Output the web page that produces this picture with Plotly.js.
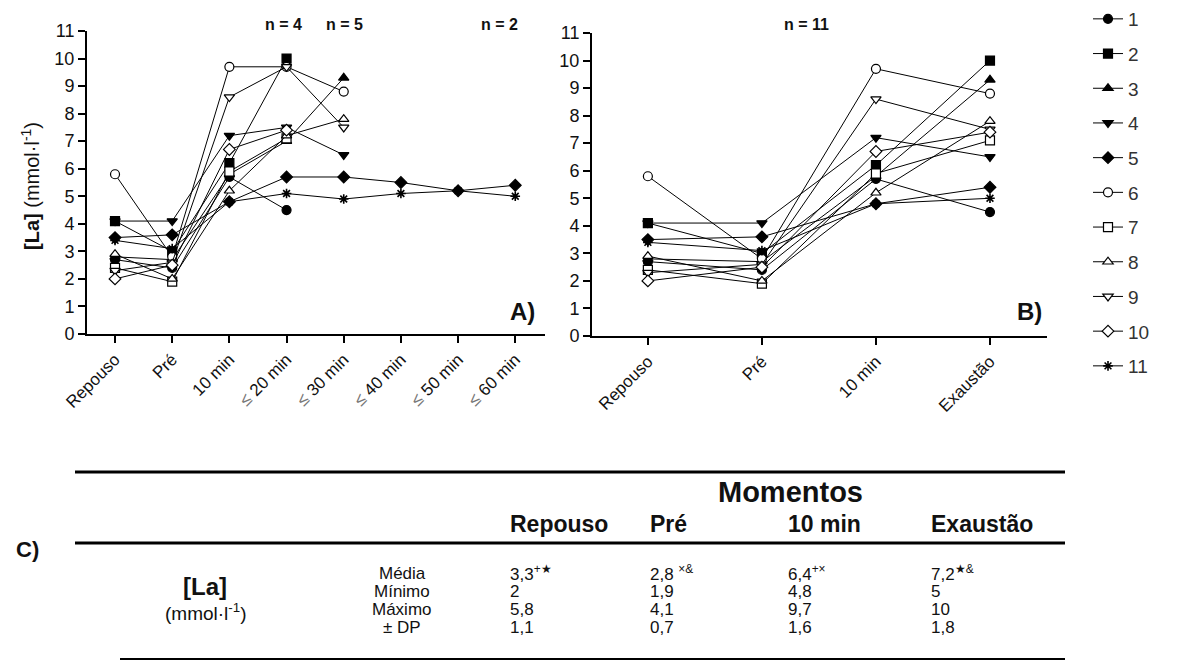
<!DOCTYPE html>
<html>
<head>
<meta charset="utf-8">
<script src="https://cdn.plot.ly/plotly-3.0.1.min.js"></script>
<style>
html,body{margin:0;padding:0;background:#fff;}
#chart{width:1178px;height:662px;}
</style>
</head>
<body>
<div id="chart"></div>
<script>
// ---- data ----
const subjects = ['1','2','3','4','5','6','7','8','9','10','11'];
const catsA = ['Repouso','Pré','10 min','20','30','40','50','60'];
const labelsA = ['Repouso','Pré','10 min',
  '<span style="color:#777">≤</span> 20 min','<span style="color:#777">≤</span> 30 min',
  '<span style="color:#777">≤</span> 40 min','<span style="color:#777">≤</span> 50 min',
  '<span style="color:#777">≤</span> 60 min'];
const catsB = ['Repouso','Pré','10 min','Exaustão'];

const repouso  = [2.7, 4.1, 2.8, 4.1, 3.5, 5.8, 2.4, 2.9, 2.3, 2.0, 3.4];
const pre      = [2.4, 3.0, 2.7, 4.1, 3.6, 2.8, 1.9, 2.0, 2.6, 2.5, 3.1];
const min10    = [5.7, 6.2, 5.8, 7.2, 4.8, 9.7, 5.9, 5.2, 8.6, 6.7, 4.8];
const min20    = [4.5, 10.0, 7.0, 7.5, 5.7, 9.7, 7.1, 7.2, 9.7, 7.4, 5.1];
const min30    = [null, null, 9.3, 6.5, 5.7, 8.8, null, 7.8, 7.5, null, 4.9];
const min40    = [null, null, null, null, 5.5, null, null, null, null, null, 5.1];
const min50    = [null, null, null, null, 5.2, null, null, null, null, null, 5.2];
const min60    = [null, null, null, null, 5.4, null, null, null, null, null, 5.0];
const exaustao = [4.5, 10.0, 9.3, 6.5, 5.4, 8.8, 7.1, 7.8, 7.5, 7.4, 5.0];

const nLabels = ['n = 4', 'n = 5', 'n = 2', 'n = 11'];

const tableCols = ['Repouso', 'Pré', '10 min', 'Exaustão'];
const tableRows = ['Média', 'Mínimo', 'Máximo', '± DP'];
const mediaVals = ['3,3<sup>+★</sup>', '2,8 <sup>×&</sup>', '6,4<sup>+×</sup>', '7,2<sup>★&</sup>'];
const minVals   = ['2', '1,9', '4,8', '5'];
const maxVals   = ['5,8', '4,1', '9,7', '10'];
const dpVals    = ['1,1', '0,7', '1,6', '1,8'];

// ---- styles ----
const symbols = ['circle','square','triangle-up','triangle-down','diamond',
                 'circle','square','triangle-up','triangle-down','diamond','asterisk-open'];
const filled  = [true,true,true,true,true,false,false,false,false,false,true];

const W = 1178, H = 662;
const px = x => x / W;
const py = y => 1 - y / H;
const SANS = 'Liberation Sans, Arial, sans-serif';

function marker(i){
  const m = {symbol: symbols[i], size: 9, color: filled[i] ? '#000' : '#fff',
             line: {color: '#000', width: 1.2}};
  if (symbols[i] === 'asterisk-open') { m.size = 8; m.line.width = 1.6; }
  return m;
}

const traces = [];
subjects.forEach((s, i) => {
  const yA = [repouso[i], pre[i], min10[i], min20[i], min30[i], min40[i], min50[i], min60[i]];
  traces.push({x: catsA, y: yA, xaxis: 'x', yaxis: 'y', type: 'scatter', mode: 'lines+markers',
    line: {color: '#000', width: 1}, marker: marker(i), showlegend: false, name: s,
    connectgaps: false, cliponaxis: false});
});
subjects.forEach((s, i) => {
  const yB = [repouso[i], pre[i], min10[i], exaustao[i]];
  traces.push({x: catsB, y: yB, xaxis: 'x2', yaxis: 'y2', type: 'scatter', mode: 'lines+markers',
    line: {color: '#000', width: 1}, marker: marker(i), showlegend: true, name: s,
    legendgroup: 'g' + s, cliponaxis: false});
});

const axY = {range: [0, 11], dtick: 1, tick0: 0, showgrid: false, zeroline: false,
  showline: true, linewidth: 2, linecolor: '#000', ticks: 'outside', ticklen: 7, tickwidth: 2,
  tickcolor: '#000', tickfont: {family: SANS, size: 18, color: '#111'}, fixedrange: true};
const axX = {type: 'category', showgrid: false, zeroline: false, showline: true, linewidth: 2,
  linecolor: '#000', ticks: 'outside', ticklen: 7, tickwidth: 2, tickcolor: '#000',
  tickangle: -45, tickfont: {family: SANS, size: 17, color: '#111'}, fixedrange: true};

const ann = [];
function T(x, y, text, size, opts){
  ann.push(Object.assign({xref: 'paper', yref: 'paper', x: px(x), y: py(y), text: text,
    showarrow: false, xanchor: 'center', yanchor: 'middle',
    font: {family: SANS, size: size, color: '#111'}}, opts || {}));
}
// y title
T(30, 186, '<b>[La]</b> (mmol·l<sup>-1</sup>)', 20, {textangle: -90});
// n labels
const nPos = [[283, 25], [344, 25], [499, 25], [806, 25]];
nLabels.forEach((t, k) => T(nPos[k][0], nPos[k][1], '<b>' + t + '</b>', 16));
T(522, 311, '<b>A)</b>', 24);
T(1029, 311, '<b>B)</b>', 24);

// table
T(27, 549, '<b>C)</b>', 22);
T(790, 492, '<b>Momentos</b>', 29);
const colX = [508, 648, 786, 929];
tableCols.forEach((t, k) => T(colX[k], 524, '<b>' + t + '</b>', 23, {xanchor: 'left'}));
T(205, 586, '<b>[La]</b>', 24);
T(205, 612, '(mmol·l<sup>-1</sup>)', 19);
const rowY = [573, 591, 609, 627];
const rowVals = [mediaVals, minVals, maxVals, dpVals];
tableRows.forEach((t, r) => {
  T(402, rowY[r], t, 17);
  rowVals[r].forEach((v, k) => T(colX[k], rowY[r], v, 17, {xanchor: 'left'}));
});

const shapes = [
  {type: 'line', xref: 'paper', yref: 'paper', x0: px(75), x1: px(1065), y0: py(472), y1: py(472), line: {color: '#000', width: 3}},
  {type: 'line', xref: 'paper', yref: 'paper', x0: px(75), x1: px(1065), y0: py(543), y1: py(543), line: {color: '#000', width: 3}},
  {type: 'line', xref: 'paper', yref: 'paper', x0: px(120), x1: px(1065), y0: py(659), y1: py(659), line: {color: '#000', width: 2}}
];

const layout = {
  width: W, height: H, margin: {l: 0, r: 0, t: 0, b: 0},
  paper_bgcolor: '#fff', plot_bgcolor: '#fff',
  xaxis: Object.assign({}, axX, {domain: [px(87), px(545)], range: [-0.49, 7.52], anchor: 'y',
    tickvals: catsA, ticktext: labelsA}),
  yaxis: Object.assign({}, axY, {domain: [py(334), py(31)], anchor: 'x'}),
  xaxis2: Object.assign({}, axX, {domain: [px(592), px(1047)], range: [-0.49, 3.5], anchor: 'y2'}),
  yaxis2: Object.assign({}, axY, {domain: [py(336), py(33)], anchor: 'x2'}),
  showlegend: true,
  legend: {x: px(1088), xanchor: 'left', y: 1, yanchor: 'top', bgcolor: 'rgba(0,0,0,0)',
    font: {family: SANS, size: 19, color: '#333'}, tracegroupgap: 7, itemwidth: 30},
  annotations: ann, shapes: shapes
};

Plotly.newPlot('chart', traces, layout, {staticPlot: true, displayModeBar: false});
</script>
</body>
</html>
